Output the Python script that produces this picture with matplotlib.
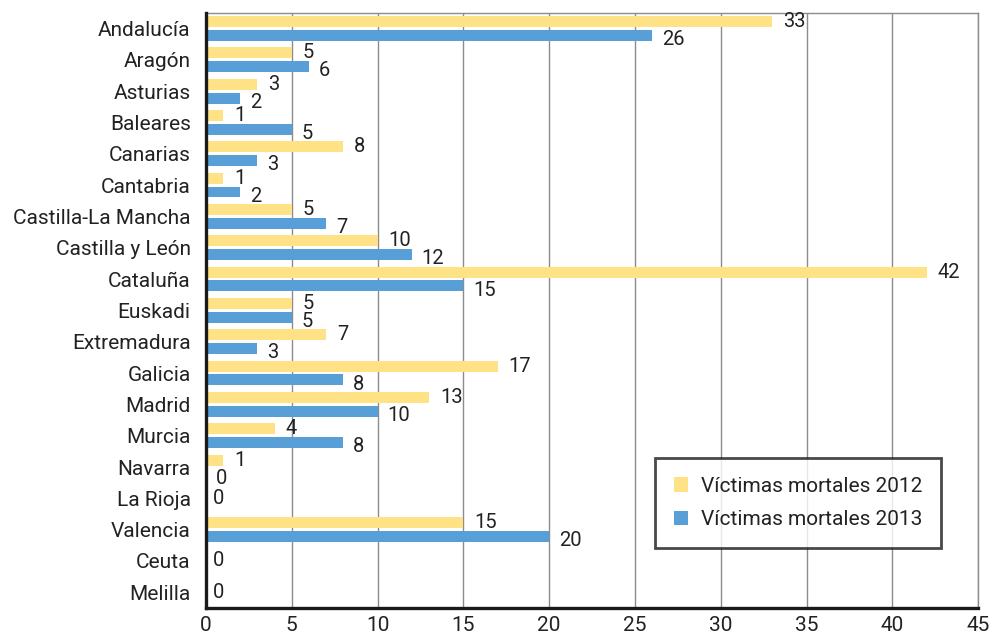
import numpy as np
import matplotlib
matplotlib.use("Agg")
import matplotlib.pyplot as plt
from matplotlib.patches import Patch

regiones = ["Andalucía", "Aragón", "Asturias", "Baleares", "Canarias", "Cantabria",
            "Castilla-La Mancha", "Castilla y León", "Cataluña", "Euskadi",
            "Extremadura", "Galicia", "Madrid", "Murcia", "Navarra", "La Rioja",
            "Valencia", "Ceuta", "Melilla"]
victimas_2012 = [33, 5, 3, 1, 8, 1, 5, 10, 42, 5, 7, 17, 13, 4, 1, 0, 15, 0, 0]
victimas_2013 = [26, 6, 2, 5, 3, 2, 7, 12, 15, 5, 3, 8, 10, 8, 0, 0, 20, 0, 0]
x_ticks = [0, 5, 10, 15, 20, 25, 30, 35, 40, 45]

COLOR_2012 = "#FFE285"
COLOR_2013 = "#579FD6"
TXT = "#222222"

plt.rcParams["font.family"] = ["Roboto", "DejaVu Sans"]

fig = plt.figure(figsize=(9.95, 6.42), dpi=100)
ax = fig.add_axes([0.207, 0.053, 0.776, 0.927])

y = np.arange(len(regiones))
off, h = 0.22, 0.35
ax.barh(y - off, victimas_2012, height=h, color=COLOR_2012, zorder=3)
ax.barh(y + off, victimas_2013, height=h, color=COLOR_2013, zorder=3)

# etiquetas de valor
for i, (a, b) in enumerate(zip(victimas_2012, victimas_2013)):
    if a == 0 and b == 0:
        ax.annotate("0", (0, i), xytext=(5, 0), textcoords="offset points",
                    ha="left", va="center", fontsize=14.5, color=TXT)
        continue
    ax.annotate(str(a), (a, i - off), xytext=(8, 0), textcoords="offset points",
                ha="left", va="center", fontsize=14.5, color=TXT, zorder=4)
    ax.annotate(str(b), (b, i + off), xytext=(7, -3), textcoords="offset points",
                ha="left", va="center", fontsize=14.5, color=TXT, zorder=4)

ax.set_xlim(0, 45)
ax.set_ylim(len(regiones) - 0.5, -0.5)
ax.set_xticks(x_ticks)
ax.set_yticks(y)
ax.set_yticklabels(regiones)
ax.tick_params(axis="both", length=0, labelsize=15, colors=TXT)
ax.tick_params(axis="y", pad=11)
ax.tick_params(axis="x", pad=6)

ax.grid(axis="x", color="#8c8c8c", linewidth=1.0, zorder=0)
ax.set_axisbelow(True)
for s in ["top", "right"]:
    ax.spines[s].set_color("#8c8c8c")
    ax.spines[s].set_linewidth(1.0)
for s in ["left", "bottom"]:
    ax.spines[s].set_color("#1a1a1a")
    ax.spines[s].set_linewidth(2.4)
    ax.spines[s].set_zorder(5)

handles = [Patch(facecolor=COLOR_2012, label="Víctimas mortales 2012"),
           Patch(facecolor=COLOR_2013, label="Víctimas mortales 2013")]
leg = ax.legend(handles=handles, loc="lower right", bbox_to_anchor=(0.952, 0.101),
                fontsize=15, frameon=True, fancybox=False, handlelength=0.7,
                handleheight=0.7, handletextpad=0.6, borderpad=0.9,
                labelspacing=0.7, borderaxespad=0)
leg.get_frame().set_edgecolor("#1a1a1a")
leg.get_frame().set_linewidth(2.0)
for t in leg.get_texts():
    t.set_color(TXT)

fig.savefig("out.png", dpi=100)
